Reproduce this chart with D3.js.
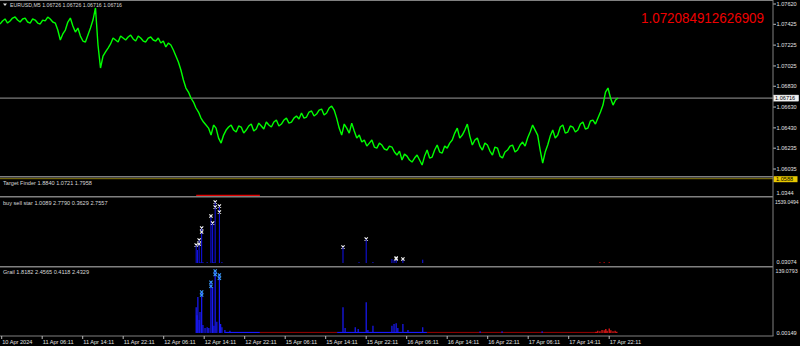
<!DOCTYPE html>
<html><head><meta charset="utf-8">
<script src="https://cdn.jsdelivr.net/npm/d3@7"></script>
<style>html,body{margin:0;padding:0;background:#000;}svg{display:block;}</style>
</head><body>
<svg id="c" width="800" height="346"></svg>
<script>
// ---------- DATA ----------
const timeLabels = ["10 Apr 2024","11 Apr 06:11","11 Apr 14:11","11 Apr 22:11","12 Apr 06:11","12 Apr 14:11","12 Apr 22:11","15 Apr 06:11","15 Apr 14:11","15 Apr 22:11","16 Apr 06:11","16 Apr 14:11","16 Apr 22:11","17 Apr 06:11","17 Apr 14:11","17 Apr 22:11"];
const barsPerLabel = 96; // M5 bars in 8 hours
const priceStartBar = -4, priceEndBar = 1461;
const prices = [
1.07428,1.07457,1.07476,1.07437,1.07457,1.07485,1.07495,1.07466,1.07447,1.07476,1.07485,1.07447,
1.07437,1.07476,1.07466,1.07437,1.07428,1.07466,1.07457,1.07495,1.07476,1.07447,1.07437,1.07370,
1.07274,1.07332,1.07370,1.07447,1.07485,1.07409,1.07351,1.07389,1.07312,1.07264,1.07255,1.07322,
1.07389,1.07466,1.07582,1.07226,1.07005,1.07120,1.07159,1.07197,1.07236,1.07293,1.07274,1.07255,
1.07312,1.07293,1.07274,1.07303,1.07322,1.07284,1.07264,1.07312,1.07293,1.07264,1.07255,1.07293,
1.07303,1.07274,1.07264,1.07293,1.07245,1.07264,1.07207,1.07245,1.07226,1.07178,1.07120,1.07063,
1.06986,1.06890,1.06813,1.06774,1.06717,1.06678,1.06621,1.06582,1.06524,1.06486,1.06457,1.06428,
1.06361,1.06457,1.06428,1.06332,1.06284,1.06361,1.06409,1.06438,1.06457,1.06409,1.06390,1.06448,
1.06438,1.06380,1.06409,1.06448,1.06467,1.06400,1.06419,1.06476,1.06448,1.06419,1.06486,1.06457,
1.06438,1.06486,1.06505,1.06448,1.06467,1.06505,1.06524,1.06476,1.06486,1.06524,1.06544,1.06515,
1.06573,1.06524,1.06534,1.06582,1.06592,1.06544,1.06563,1.06601,1.06611,1.06553,1.06573,1.06621,
1.06640,1.06601,1.06524,1.06428,1.06361,1.06467,1.06428,1.06380,1.06476,1.06400,1.06332,1.06361,
1.06294,1.06313,1.06255,1.06284,1.06313,1.06246,1.06236,1.06284,1.06265,1.06227,1.06217,1.06255,
1.06246,1.06198,1.06169,1.06207,1.06121,1.06178,1.06159,1.06121,1.06102,1.06140,1.06169,1.06121,
1.06073,1.06159,1.06217,1.06140,1.06150,1.06217,1.06265,1.06198,1.06188,1.06255,1.06236,1.06284,
1.06313,1.06380,1.06428,1.06332,1.06361,1.06409,1.06467,1.06351,1.06265,1.06313,1.06332,1.06255,
1.06217,1.06284,1.06265,1.06207,1.06169,1.06246,1.06236,1.06159,1.06140,1.06198,1.06217,1.06255,
1.06265,1.06198,1.06217,1.06265,1.06294,1.06255,1.06332,1.06390,1.06457,1.06409,1.06361,1.06217,
1.06092,1.06198,1.06265,1.06351,1.06409,1.06332,1.06361,1.06438,1.06457,1.06380,1.06390,1.06448,
1.06438,1.06390,1.06409,1.06467,1.06486,1.06419,1.06428,1.06496,1.06505,1.06467,1.06524,1.06582,
1.06649,1.06774,1.06813,1.06717,1.06649,1.06698,1.06717];
const priceTicks = [1.07620,1.07425,1.07225,1.07025,1.06830,1.06630,1.06430,1.06235,1.06035];
const priceMin = 1.06035, priceMax = 1.07620;
const bidPrice = 1.06716;
const headerText = "EURUSD,M5 1.06726 1.06726 1.06716 1.06716";
const bigNumber = "1.072084912626909";

const tfHeader = "Target Finder 1.8840 1.0721 1.7958";
const tfLabels = ["1.0588","1.0344"];
const tfRedFromBar = 461, tfRedToBar = 612;

const bssHeader = "buy sell star 1.0089 2.7790 0.3629 2.7557";
const bssMax = 1539.0494, bssMinLabel = "0.03074";
const bssBars = [461,464,468,470,474,477,487,496,500,503,506,516,522,809,847,864,880,925,930,935,951,998];
const bssVals = [447,323,571,25,869,25,25,1167,993,25,1514,1415,25,397,25,596,25,99,75,99,99,82];
const bssStarBars = [461,468,468,474,474,496,500,506,506,516,516,809,864,935,935,951];
const bssStarVals = [447,571,472,869,770,1167,993,1514,1390,1415,1266,397,596,124,99,99];
const bssRedBars = [1418,1428,1440];
const bssRedVals = [25,25,25];

const grailHeader = "Grail 1.8182 2.4565 0.4118 2.4329";
const grailMax = 139.0793, grailMinLabel = "0.00149";
const grailBlueBars = [461,463,465,468,470,474,477,482,487,491,496,500,503,506,510,516,519,522,529,541,809,814,838,845,864,868,880,925,930,935,939,951,963,998,1134,1186,1281];
const grailBlueVals = [58,40,81,29,47,92,18,11,13,11,114,103,16,139,25,132,20,13,7,5,58,11,13,9,69,7,16,16,20,22,11,20,7,13,4,4,4];
const grailStarBars = [474,474,496,496,506,506,516,516];
const grailStarVals = [92,85,114,105,139,131,130,123];
const grailBlueBaseFrom = [529,795], grailBlueBaseTo = [612,1008];
const grailRedBaseFrom = [612,1008], grailRedBaseTo = [795,1410];
const grailRedBars = [1409,1413,1418,1423,1428,1432,1435,1440,1444,1449,1454,1458];
const grailRedVals = [3,5,4,7,6,9,5,10,6,4,5,3];

// ---------- LAYOUT ----------
const AX = 773;
const svg = d3.select("#c");
const FONT = "'Liberation Sans', Arial, sans-serif";
const GRID = "#808080";
const FS = 5.6;

const x = d3.scaleLinear().domain([0, barsPerLabel*15]).range([1.7, 609.2]);
const yMain = d3.scaleLinear().domain([priceMin, priceMax]).range([169, 4]);
const yBss = d3.scaleLinear().domain([0, bssMax]).range([263, 201]);
const yGrail = d3.scaleLinear().domain([0, grailMax]).range([333, 271]);

function axisText(yy, txt, fs, xo){
  return svg.append("text").attr("x",AX+(xo||3.5)).attr("y",yy).attr("font-family",FONT).attr("font-size",fs||FS)
    .attr("fill","#e0e0e0").text(txt);
}

// ---------- MAIN PRICE ----------
const xi = d3.scaleLinear().domain([0, prices.length-1]).range([x(priceStartBar), x(priceEndBar)]);
svg.append("line").attr("x1",0).attr("x2",AX).attr("y1",yMain(bidPrice)).attr("y2",yMain(bidPrice))
  .attr("stroke","#9a9a9a").attr("stroke-width",1);
svg.append("path").datum(prices)
  .attr("d", d3.line().x((d,i)=>xi(i)).y(d=>yMain(d)))
  .attr("fill","none").attr("stroke","#00ff00").attr("stroke-width",1.4).attr("stroke-linejoin","bevel");

svg.append("text").attr("x",641).attr("y",23).attr("font-family",FONT).attr("font-size",14.5)
  .attr("fill","#ee0000").attr("textLength",123).attr("lengthAdjust","spacingAndGlyphs").text(bigNumber);

// header
svg.append("path").attr("d","M3,3.5 L7,3.5 L5,6 Z").attr("fill","#ddd");
svg.append("text").attr("x",10).attr("y",7.2).attr("font-family",FONT).attr("font-size",FS)
  .attr("fill","#d8d8d8").attr("textLength",112).attr("lengthAdjust","spacingAndGlyphs").text(headerText);

// right axis main
priceTicks.forEach(t=>{
  const yy = yMain(t);
  svg.append("line").attr("x1",AX).attr("x2",AX+3).attr("y1",yy).attr("y2",yy).attr("stroke","#bbb");
  axisText(yy+2, t.toFixed(5));
});
svg.append("rect").attr("x",AX+0.5).attr("y",yMain(bidPrice)-3).attr("width",25).attr("height",6)
  .attr("fill","#f0f0f0").attr("stroke","#fff").attr("stroke-width",0.5);
svg.append("text").attr("x",AX+2).attr("y",yMain(bidPrice)+2).attr("font-family",FONT).attr("font-size",FS)
  .attr("fill","#000").text(bidPrice.toFixed(5));

// ---------- TARGET FINDER ----------
svg.append("line").attr("x1",0).attr("x2",AX).attr("y1",178.7).attr("y2",178.7).attr("stroke","#8a7d10").attr("stroke-width",1);
svg.append("line").attr("x1",x(tfRedFromBar)).attr("x2",x(tfRedToBar)).attr("y1",195.3).attr("y2",195.3).attr("stroke","#e00000").attr("stroke-width",1.2);
svg.append("text").attr("x",3).attr("y",184.5).attr("font-family",FONT).attr("font-size",FS).attr("fill","#d8d8d8").text(tfHeader);
svg.append("rect").attr("x",AX+0.5).attr("y",176.2).attr("width",24).attr("height",6).attr("fill","#e8c800");
svg.append("text").attr("x",AX+3).attr("y",181.3).attr("font-family",FONT).attr("font-size",FS).attr("fill","#000").text(tfLabels[0]);
axisText(195, tfLabels[1]);

// ---------- BUY SELL STAR ----------
svg.append("text").attr("x",3).attr("y",204.5).attr("font-family",FONT).attr("font-size",FS).attr("fill","#d8d8d8").text(bssHeader);
svg.selectAll(".bssb").data(bssBars).enter().append("line")
  .attr("x1",d=>x(d)).attr("x2",d=>x(d)).attr("y1",yBss(0)).attr("y2",(d,i)=>yBss(bssVals[i]))
  .attr("stroke","#1212f0").attr("stroke-width",1);
svg.selectAll(".bssr").data(bssRedBars).enter().append("line")
  .attr("x1",d=>x(d)).attr("x2",d=>x(d)).attr("y1",yBss(0)).attr("y2",(d,i)=>yBss(bssRedVals[i]))
  .attr("stroke","#e00000").attr("stroke-width",1);
const star = (g, bx, vy, col)=>{
  const s=1.6;
  g.append("path").attr("d",`M${bx-s},${vy-s}L${bx+s},${vy+s}M${bx-s},${vy+s}L${bx+s},${vy-s}`)
   .attr("stroke",col).attr("stroke-width",1.1);
};
const bssG = svg.append("g");
bssStarBars.forEach((b,i)=>star(bssG, x(b), yBss(bssStarVals[i]), "#f2f2f2"));
axisText(203.6, bssMax.toFixed(4), 5, 2);
axisText(264, bssMinLabel);

// ---------- GRAIL ----------
svg.append("text").attr("x",3).attr("y",273.8).attr("font-family",FONT).attr("font-size",FS).attr("fill","#d8d8d8").text(grailHeader);
grailBlueBaseFrom.forEach((f,i)=>svg.append("rect").attr("x",x(f)).attr("y",yGrail(2.5)).attr("width",x(grailBlueBaseTo[i])-x(f)).attr("height",yGrail(0)-yGrail(2.5)).attr("fill","#1a1aff"));
grailRedBaseFrom.forEach((f,i)=>svg.append("rect").attr("x",x(f)).attr("y",yGrail(2.5)).attr("width",x(grailRedBaseTo[i])-x(f)).attr("height",yGrail(0)-yGrail(2.5)).attr("fill","#8a0000"));
svg.selectAll(".gb").data(grailBlueBars).enter().append("line")
  .attr("x1",d=>x(d)).attr("x2",d=>x(d)).attr("y1",yGrail(0)).attr("y2",(d,i)=>yGrail(grailBlueVals[i]))
  .attr("stroke","#1a1aff").attr("stroke-width",1.2);
svg.selectAll(".gr").data(grailRedBars).enter().append("line")
  .attr("x1",d=>x(d)).attr("x2",d=>x(d)).attr("y1",yGrail(0)).attr("y2",(d,i)=>yGrail(grailRedVals[i]))
  .attr("stroke","#ff1a1a").attr("stroke-width",1.2);
const gG = svg.append("g");
grailStarBars.forEach((b,i)=>star(gG, x(b), yGrail(grailStarVals[i]), "#3a9bff"));
axisText(273, grailMax.toFixed(4), 5.3, 2.5);
axisText(334.5, grailMinLabel);

// ---------- FRAME / SEPARATORS ----------
svg.append("line").attr("x1",0).attr("x2",AX).attr("y1",0.5).attr("y2",0.5).attr("stroke",GRID);
[176.8,196.8,266.8].forEach(yy=>svg.append("line").attr("x1",0).attr("x2",AX).attr("y1",yy).attr("y2",yy).attr("stroke",GRID).attr("stroke-width",1.5));
svg.append("line").attr("x1",0).attr("x2",AX+0.5).attr("y1",336).attr("y2",336).attr("stroke",GRID).attr("stroke-width",1);
svg.append("line").attr("x1",AX).attr("x2",AX).attr("y1",0).attr("y2",336).attr("stroke",GRID).attr("stroke-width",1);

// ---------- TIME AXIS ----------
timeLabels.forEach((lab,i)=>{
  const xx = x(i*barsPerLabel);
  svg.append("line").attr("x1",xx).attr("x2",xx).attr("y1",336).attr("y2",339).attr("stroke","#bbb");
  svg.append("text").attr("x",xx+0.5).attr("y",343.5).attr("font-family",FONT).attr("font-size",FS)
    .attr("fill","#e0e0e0").text(lab);
});
</script>
</body></html>
